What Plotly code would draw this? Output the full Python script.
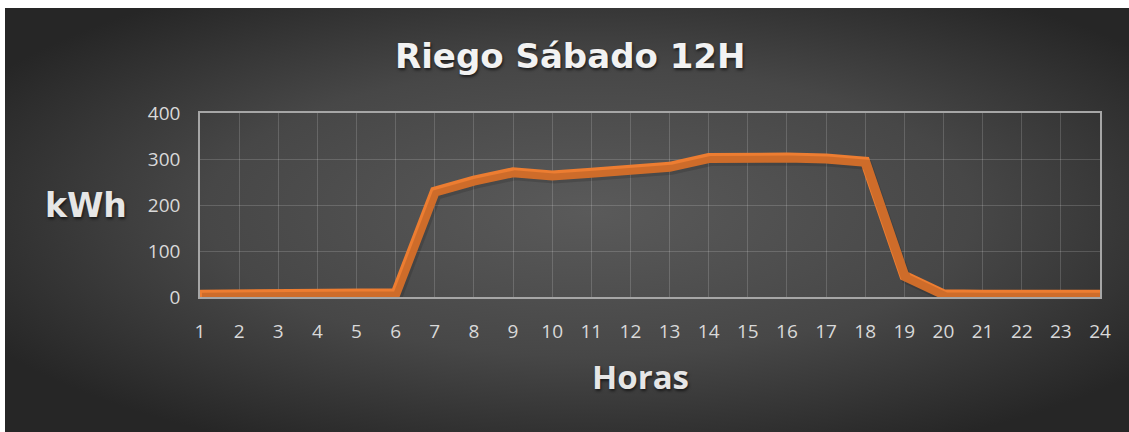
import base64
import plotly.graph_objects as go

# ---- data ----
hours = list(range(1, 25))
hour_labels = [str(h) for h in hours]
kwh = [5, 5, 5, 4, 5, 8, 229, 253, 271, 264, 270, 275, 283, 302, 305, 303, 301, 294, 46, 6, 5, 5, 5, 5]
y_ticks = [0, 100, 200, 300, 400]

title_text = "Riego Sábado 12H"
y_title = "kWh"
x_title = "Horas"

# ---- layout geometry ----
W, H = 1129, 432
L, R, T, B = 200, 29, 113, 135
PW, PH = W - L - R, H - T - B


def px_x(px):
    return (px - L) / PW


def px_y(py):
    return (H - B - py) / PH


# radial gradient background (svg data uri)
svg = (
    '<svg xmlns="http://www.w3.org/2000/svg" width="1124" height="424" preserveAspectRatio="none">'
    '<defs><radialGradient id="g" cx="0.52" cy="0.48" r="0.62">'
    '<stop offset="0" stop-color="#5a5a5a"/>'
    '<stop offset="0.55" stop-color="#474747"/>'
    '<stop offset="1" stop-color="#262626"/>'
    '</radialGradient></defs>'
    '<rect width="1124" height="424" fill="url(#g)"/></svg>'
)
bg_src = "data:image/svg+xml;base64," + base64.b64encode(svg.encode()).decode()

ORANGE = "#ED7D31"
TICK_COL = "#d9d9d9"
FONT = "Open Sans"
SHADOW = "1px 2px 3px rgba(0,0,0,0.6)"

fig = go.Figure()

# soft drop shadow of the line (same data, slightly offset axes)
dx_units = 2 / (PW / 23)
dy_units = 3 / (PH / 400)
fig.add_trace(go.Scatter(
    x=hours, y=kwh, mode="lines", xaxis="x2", yaxis="y2",
    line=dict(color="rgba(0,0,0,0.13)", width=10),
    hoverinfo="skip", showlegend=False,
))
fig.add_trace(go.Scatter(
    x=hours, y=kwh, mode="lines",
    line=dict(color=ORANGE, width=10),
    showlegend=False, name="kWh",
))

fig.update_layout(
    width=W, height=H,
    margin=dict(l=L, r=R, t=T, b=B, pad=0),
    paper_bgcolor="white",
    plot_bgcolor="rgba(0,0,0,0)",
    images=[dict(
        source=bg_src, xref="paper", yref="paper",
        x=px_x(5), y=px_y(8), sizex=(W - 5) / PW, sizey=(H - 8) / PH,
        xanchor="left", yanchor="top", sizing="stretch", layer="below",
    )],
    xaxis=dict(
        range=[1, 24], tickvals=hours, ticktext=hour_labels,
        showgrid=True, gridcolor="rgba(255,255,255,0.16)", gridwidth=1,
        showline=True, mirror=True, linecolor="#a6a6a6", linewidth=1.5,
        zeroline=False, ticks="", ticklabelstandoff=16,
        tickfont=dict(family=FONT, size=19, color=TICK_COL),
    ),
    yaxis=dict(
        range=[0, 400], tickvals=y_ticks,
        showgrid=True, gridcolor="rgba(255,255,255,0.16)", gridwidth=1,
        showline=True, mirror=True, linecolor="#a6a6a6", linewidth=1.5,
        zeroline=False, ticks="", ticklabelstandoff=14,
        tickfont=dict(family=FONT, size=19, color=TICK_COL),
    ),
    xaxis2=dict(range=[1 - dx_units, 24 - dx_units], overlaying="x", visible=False),
    yaxis2=dict(range=[dy_units, 400 + dy_units], overlaying="y", visible=False),
    annotations=[
        dict(text=title_text, xref="paper", yref="paper", x=px_x(570), y=px_y(56),
             xanchor="center", yanchor="middle", showarrow=False,
             font=dict(family="DejaVu Sans", size=34, color="#f2f2f2", weight="bold", shadow=SHADOW)),
        dict(text=y_title, xref="paper", yref="paper", x=px_x(86), y=px_y(205),
             xanchor="center", yanchor="middle", showarrow=False,
             font=dict(family="DejaVu Sans", size=33, color="#e6e6e6", weight="bold", shadow=SHADOW)),
        dict(text=x_title, xref="paper", yref="paper", x=px_x(640), y=px_y(376),
             xanchor="center", yanchor="middle", showarrow=False,
             font=dict(family=FONT, size=33, color="#e6e6e6", weight="bold", shadow=SHADOW)),
    ],
)

fig.write_html("out.html", config={"displayModeBar": False},
               post_script="document.body.style.margin='0';")
